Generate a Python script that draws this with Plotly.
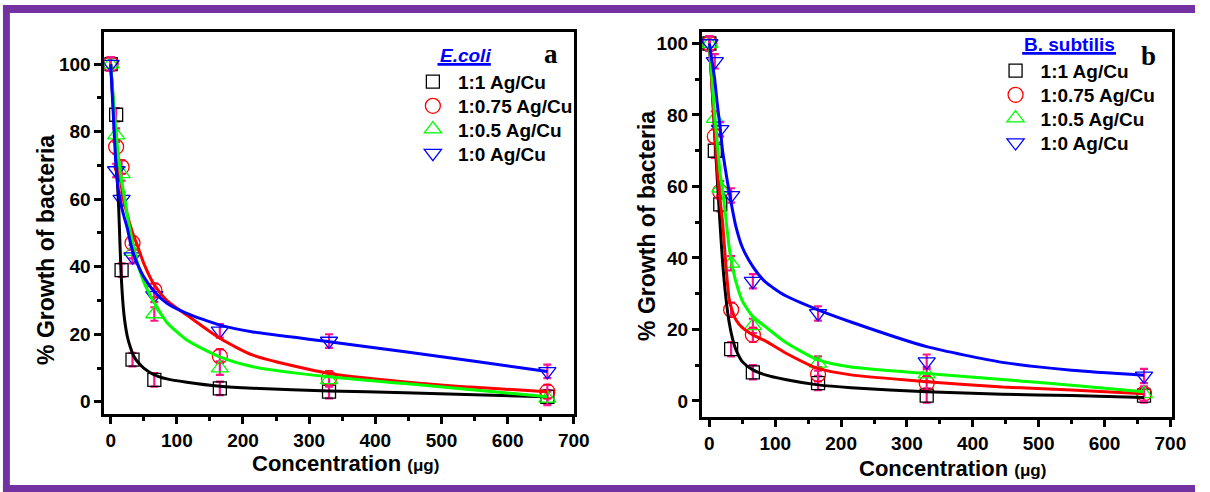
import plotly.graph_objects as go

W, H = 1210, 492

# ---------------- data ----------------
conc = [0, 8.25, 16.5, 33, 66, 165, 330, 660]
series_names = ["1:1 Ag/Cu", "1:0.75 Ag/Cu", "1:0.5 Ag/Cu", "1:0 Ag/Cu"]

# E. coli (panel a) % growth
ecoli_11 = [100, 85, 39, 12.5, 6.5, 4, 3, 1.5]
ecoli_075 = [100, 75.5, 69.5, 47, 33, 13.5, 7, 3]
ecoli_05 = [100, 79, 67.5, 44.5, 26, 10, 6.5, 1]
ecoli_0 = [100, 68.5, 60, 43, 31.5, 21, 18, 9]

# B. subtilis (panel b) % growth
bsub_11 = [100, 70, 55, 14.5, 8, 5, 1.5, 1.5]
bsub_075 = [100, 74, 58.5, 25.5, 18.5, 7.5, 5, 2]
bsub_05 = [100, 79, 59.5, 38.5, 21, 10.5, 7.5, 2]
bsub_0 = [100, 95, 76, 57.5, 33.5, 24.5, 11, 7]

# error bars (+/-)
err_a = [2, 2, 2, 2, 2, 2, 2, 2]
err_b = [2, 2, 2, 2, 2, 2, 2, 2]

# fitted curves
fit_x = [0, 4, 8, 12, 14, 16, 20, 25, 30, 35, 40, 50, 66, 85, 115, 165, 215, 330, 445, 550, 660]
fit_ecoli_11 = [100, 87, 73, 58, 47, 37, 26, 19.5, 16, 13.5, 12, 10, 8, 6.8, 5.8, 4.6, 4.0, 3.2, 2.7, 2.1, 1.5]
fit_ecoli_075 = [100, 89, 78, 70, 67, 64, 59.5, 55.5, 52, 49, 46.5, 41, 34.6, 30, 25.7, 18.8, 13.8, 8.4, 5.9, 4.3, 3.0]
fit_ecoli_05 = [100, 90, 80, 72, 69, 66, 61.5, 55.5, 50.2, 45.5, 41.5, 35.5, 29.3, 23.5, 18.3, 13.3, 10.4, 7.4, 5.4, 3.5, 1.5]
fit_ecoli_0 = [100, 85, 70, 62, 60, 58, 55, 51.5, 47, 43.5, 41, 37, 32.6, 29.2, 26.2, 22.7, 20.7, 17.8, 14.8, 12, 9]

fit_bsub_11 = [100, 88, 75, 62, 56, 50, 39, 29, 22, 17.5, 14.5, 11, 8.7, 7.3, 6.0, 4.5, 3.7, 2.6, 1.9, 1.5, 1.0]
fit_bsub_075 = [100, 88, 76, 65, 60, 56.5, 50, 38, 28.5, 25, 22.8, 20.5, 18.5, 16.8, 13.5, 9.1, 7.3, 5.4, 3.9, 3.1, 2.0]
fit_bsub_05 = [100, 90, 80, 72, 68, 64, 59, 51, 43, 37.6, 33.5, 28, 23.6, 20.8, 16.5, 11.5, 9.5, 7.7, 6.0, 4.4, 2.6]
fit_bsub_0 = [100, 95, 90, 83, 80, 77, 70, 64, 58.5, 53.5, 49, 43, 37.6, 33.3, 29.5, 25.5, 22.1, 15.2, 10.8, 8.6, 7.2]

x_ticks = [0, 100, 200, 300, 400, 500, 600, 700]
y_ticks = [0, 20, 40, 60, 80, 100]

# ---------------- styling ----------------
colors = ["#000000", "#FF0000", "#00FF00", "#0000FF"]
symbols = ["square-open", "circle-open", "triangle-up-open", "triangle-down-open"]
msizes = [13, 15, 15, 15]
pink = "#FF148C"
purple = "#7232A2"
FONT = "Liberation Sans, Arial, sans-serif"

def px(x):
    return x / W

def py(y):
    return 1 - y / H

fig = go.Figure()

panels = [
    dict(xa="x", ya="y", data=[ecoli_11, ecoli_075, ecoli_05, ecoli_0], err=err_a,
         fits=[fit_ecoli_11, fit_ecoli_075, fit_ecoli_05, fit_ecoli_0],
         leg_x=433, leg_rows=[81.7, 106, 129.3, 153.3], leg_base=1),
    dict(xa="x2", ya="y2", data=[bsub_11, bsub_075, bsub_05, bsub_0], err=err_b,
         fits=[fit_bsub_11, fit_bsub_075, fit_bsub_05, fit_bsub_0],
         leg_x=1023, leg_rows=[70.7, 95, 118.3, 142.7], leg_base=5),
]

legends = {}
for p in panels:
    for i in range(4):
        lid = p["leg_base"] + i
        lname = "legend" if lid == 1 else f"legend{lid}"
        fig.add_trace(go.Scatter(
            x=conc, y=p["data"][i], mode="markers", name=series_names[i],
            xaxis=p["xa"], yaxis=p["ya"], legend=lname,
            marker=dict(symbol=symbols[i], size=msizes[i], color=colors[i],
                        line=dict(color=colors[i], width=1.3)),
            error_y=dict(type="data", array=p["err"], color=pink, thickness=2.2, width=4),
            showlegend=True,
        ))
        legends[lname] = dict(
            x=px(p["leg_x"] - 20), y=py(p["leg_rows"][i]), xanchor="left", yanchor="middle",
            font=dict(family=FONT, size=19, color="black", weight="bold"),
            bgcolor="rgba(0,0,0,0)", borderwidth=0, itemsizing="trace", itemwidth=40,
        )
    for i in range(4):
        fig.add_trace(go.Scatter(
            x=fit_x, y=p["fits"][i], mode="lines", xaxis=p["xa"], yaxis=p["ya"],
            line=dict(color=colors[i], width=3, shape="spline", smoothing=0.6),
            showlegend=False, hoverinfo="skip",
        ))

axis_common = dict(
    showline=True, linewidth=3, linecolor="black", mirror=True,
    ticks="outside", ticklen=7, tickwidth=2.5, tickcolor="black",
    showgrid=False, zeroline=False,
    tickfont=dict(family=FONT, size=19, color="black", weight="bold"),
)

fig.update_layout(
    width=W, height=H, margin=dict(l=0, r=0, t=0, b=0),
    paper_bgcolor="white", plot_bgcolor="white",
    xaxis=dict(domain=[105.7 / W, 581.7 / W], range=[-9.5, 701], tickvals=x_ticks,
               minor=dict(ticks="outside", ticklen=4, tickwidth=2.5, tickcolor="black", dtick=50, tick0=0),
               anchor="y", **axis_common),
    yaxis=dict(domain=[1 - 414.3 / H, 1 - 31.7 / H], range=[-3.7, 109.6], tickvals=y_ticks,
               minor=dict(ticks="outside", ticklen=4, tickwidth=2.5, tickcolor="black", dtick=10, tick0=0),
               anchor="x", **axis_common),
    xaxis2=dict(domain=[710.7 / W, 1186.7 / W], range=[-11.4, 702.5], tickvals=x_ticks,
                minor=dict(ticks="outside", ticklen=4, tickwidth=2.5, tickcolor="black", dtick=50, tick0=0),
                anchor="y2", **axis_common),
    yaxis2=dict(domain=[1 - 416.7 / H, 1 - 31.7 / H], range=[-4.4, 103.3], tickvals=y_ticks,
                minor=dict(ticks="outside", ticklen=4, tickwidth=2.5, tickcolor="black", dtick=10, tick0=0),
                anchor="x2", **axis_common),
    showlegend=True,
    **legends,
)

title_font = dict(family=FONT, size=22, color="black", weight="bold")
ann = []
# axis titles
for cx, cy in [(350, 463), (964, 468)]:
    ann.append(dict(x=px(cx), y=py(cy), xref="paper", yref="paper", showarrow=False,
                    text="Concentration <span style='font-size:17px'>(μg)</span>",
                    font=title_font, xanchor="center", yanchor="middle"))
for cx, cy in [(46.5, 250), (655, 226)]:
    ann.append(dict(x=px(cx), y=py(cy), xref="paper", yref="paper", showarrow=False,
                    text="% Growth of bacteria", textangle=-90,
                    font=dict(family=FONT, size=23, color="black", weight="bold"),
                    xanchor="center", yanchor="middle"))
# legend titles
ann.append(dict(x=px(471), y=py(56), xref="paper", yref="paper", showarrow=False,
                text="<i>E.coli</i>", font=dict(family=FONT, size=19, color="#0000FF", weight="bold"),
                xanchor="center", yanchor="middle"))
ann.append(dict(x=px(1083), y=py(45), xref="paper", yref="paper", showarrow=False,
                text="B. subtilis", font=dict(family=FONT, size=19, color="#0000FF", weight="bold"),
                xanchor="center", yanchor="middle"))
# panel letters
ann.append(dict(x=px(558), y=py(54), xref="paper", yref="paper", showarrow=False, text="a",
                font=dict(family="Liberation Serif, Times New Roman, serif", size=27, color="black", weight="bold"),
                xanchor="center", yanchor="middle"))
ann.append(dict(x=px(1163), y=py(56), xref="paper", yref="paper", showarrow=False, text="b",
                font=dict(family="Liberation Serif, Times New Roman, serif", size=27, color="black", weight="bold"),
                xanchor="center", yanchor="middle"))
fig.update_layout(annotations=ann)

def band(x0, x1, y0, y1):
    return dict(type="rect", xref="paper", yref="paper", x0=px(x0), x1=px(x1), y0=py(y1), y1=py(y0),
                line=dict(width=0), fillcolor=purple, layer="above")

shapes = [
    # purple page frame (top, left, bottom)
    band(3, W, 5, 13),
    band(3, 10, 5, H),
    band(3, W, 485, H),
    # underlines of legend titles
    dict(type="line", xref="paper", yref="paper", x0=px(443), x1=px(497), y0=py(64.3), y1=py(64.3),
         line=dict(color="#0000FF", width=2.7)),
    dict(type="line", xref="paper", yref="paper", x0=px(1035), x1=px(1130), y0=py(53.3), y1=py(53.3),
         line=dict(color="#0000FF", width=2.7)),
]
fig.update_layout(shapes=shapes)

fig.write_html(
    "out.html",
    config={"displayModeBar": False},
    post_script="document.body.style.margin='0';document.body.style.padding='0';document.body.style.overflow='hidden';",
)
